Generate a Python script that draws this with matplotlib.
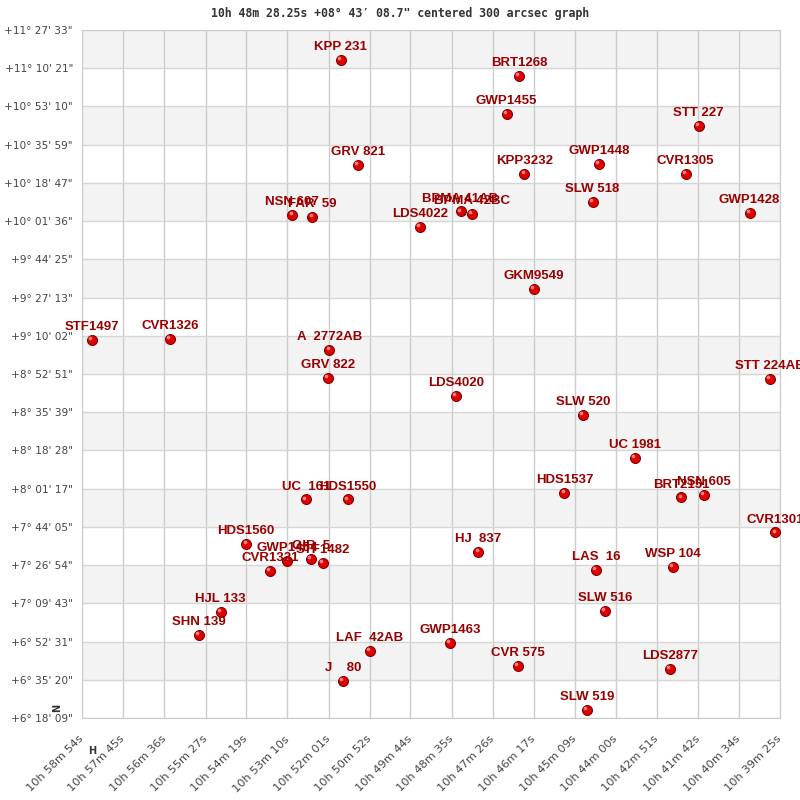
import re
import matplotlib
matplotlib.use("Agg")
import matplotlib.pyplot as plt
import matplotlib.transforms as mtransforms

# star names, RA in seconds of time, Dec in arcsec
names = ["KPP 231", "GRV 821", "NSN 607", "FAR  59", "BRT1268", "GWP1455", "STT 227",
         "GWP1448", "KPP3232", "CVR1305", "SLW 518", "GWP1428", "BPMA 41AB", "BPMA 42BC",
         "LDS4022", "GKM9549", "STT 224AB", "LDS4020", "SLW 520", "UC 1981", "HDS1537",
         "BRT2151", "NSN 605", "STF1497", "CVR1326", "A  2772AB", "GRV 822", "UC  161",
         "HDS1550", "HDS1560", "GWP1454", "CVR1321", "GIR  5", "STF1482", "HJL 133",
         "SHN 139", "LAF  42AB", "J    80", "CVR1301", "HJ  837", "LAS  16", "WSP 104",
         "SLW 516", "GWP1463", "CVR 575", "LDS2877", "SLW 519"]
ra_sec = [39101, 39072, 39182, 39148, 38802, 38823, 38501,
          38668, 38793, 38523, 38679, 38416, 38900, 38881,
          38968, 38777, 38382, 38908, 38695, 38608, 38726,
          38530, 38493, 39517, 39387, 39120, 39122, 39159,
          39089, 39259, 39190, 39219, 39151, 39131, 39302,
          39338, 39052, 39097, 38373, 38870, 38673, 38545,
          38658, 38918, 38804, 38549, 38688]
dec_arcsec = [40452, 37619, 36269, 36215, 40012, 38987, 38671,
              37646, 37376, 37376, 36620, 36323, 36361, 36296,
              35946, 34265, 31844, 31386, 30873, 29713, 28768,
              28644, 28714, 32897, 32924, 32627, 31871, 28585,
              28585, 27392, 26933, 26664, 26987, 26879, 25557,
              24937, 24505, 23696, 27700, 27176, 26691, 26772,
              25584, 24721, 24100, 24011, 22913]

ra_labels = ["10h 58m 54s", "10h 57m 45s", "10h 56m 36s", "10h 55m 27s", "10h 54m 19s",
             "10h 53m 10s", "10h 52m 01s", "10h 50m 52s", "10h 49m 44s", "10h 48m 35s",
             "10h 47m 26s", "10h 46m 17s", "10h 45m 09s", "10h 44m 00s", "10h 42m 51s",
             "10h 41m 42s", "10h 40m 34s", "10h 39m 25s"]
dec_labels = ['+6° 18\' 09"', '+6° 35\' 20"', '+6° 52\' 31"', '+7° 09\' 43"', '+7° 26\' 54"',
              '+7° 44\' 05"', '+8° 01\' 17"', '+8° 18\' 28"', '+8° 35\' 39"', '+8° 52\' 51"',
              '+9° 10\' 02"', '+9° 27\' 13"', '+9° 44\' 25"', '+10° 01\' 36"', '+10° 18\' 47"',
              '+10° 35\' 59"', '+10° 53\' 10"', '+11° 10\' 21"', '+11° 27\' 33"']

title = '10h 48m 28.25s +08° 43′ 08.7" centered 300 arcsec graph'


def parse3(s):
    a, b, c = [int(v) for v in re.findall(r"\d+", s)]
    return a * 3600 + b * 60 + c


ra_ticks = [parse3(s) for s in ra_labels]
dec_ticks = [parse3(s) for s in dec_labels]

fig = plt.figure(figsize=(8, 8), dpi=100)
ax = fig.add_axes([82 / 800, 82 / 800, 698 / 800, 688 / 800])

# alternating bands
for i in range(1, len(dec_ticks) - 1, 2):
    ax.axhspan(dec_ticks[i], dec_ticks[i + 1], color="#f3f3f3", zorder=0, lw=0)

for t in ra_ticks:
    ax.axvline(t, color="#cccccc", lw=1, zorder=1)
for t in dec_ticks:
    ax.axhline(t, color="#d6d6d6", lw=1, zorder=1)

ax.set_xlim(ra_ticks[0], ra_ticks[-1])
ax.set_ylim(dec_ticks[0], dec_ticks[-1])
ax.set_xticks(ra_ticks)
ax.set_xticklabels(ra_labels, rotation=45, ha="right", va="center",
                   rotation_mode="anchor", fontsize=8.2, color="#444444")
ax.set_yticks(dec_ticks)
ax.set_yticklabels(dec_labels, fontsize=7.6, color="#444444")
ax.tick_params(length=0)
ax.tick_params(axis="y", pad=6.5)
ax.tick_params(axis="x", pad=14)
for sp in ax.spines.values():
    sp.set_color("#cccccc")

# sphere-like markers
ax.scatter(ra_sec, dec_arcsec, s=52, color="#dd0000", edgecolors="#7a0000",
           linewidths=0.7, zorder=3)
hl = mtransforms.offset_copy(ax.transData, fig=fig, x=-1.2, y=1.2, units="points")
ax.scatter(ra_sec, dec_arcsec, s=7, color="#ff8080", lw=0, zorder=4, transform=hl)

for n, x, y in zip(names, ra_sec, dec_arcsec):
    ax.annotate(n, (x, y), xytext=(0, 7), textcoords="offset points",
                ha="center", va="baseline", fontsize=9.5, fontweight="bold",
                family="Liberation Sans", color="#990000", zorder=5,
                annotation_clip=False)

fig.text(0.5, 1 - 13 / 800, title, ha="center", va="center",
         family="DejaVu Sans Mono", fontsize=8.3, fontweight="bold", color="#333333")
fig.text(57 / 800, 1 - 708 / 800, "N", rotation=90, ha="center", va="center",
         fontsize=7, fontweight="bold", color="#333333")
fig.text(92 / 800, 1 - 751 / 800, "H", ha="center", va="center",
         fontsize=7, fontweight="bold", color="#333333")

fig.savefig("out.png", dpi=100)
